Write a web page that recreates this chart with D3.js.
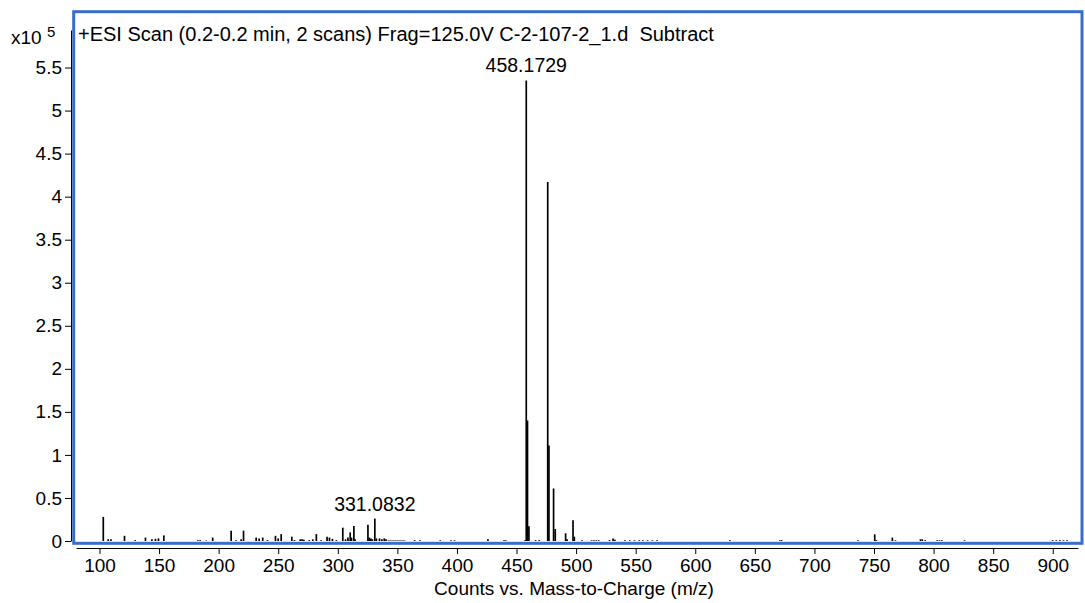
<!DOCTYPE html>
<html>
<head>
<meta charset="utf-8">
<script src="https://cdn.jsdelivr.net/npm/d3@7"></script>
<style>
  html, body { margin: 0; padding: 0; background: #fff; }
  svg { display: block; }
  text { font-family: "Liberation Sans", Arial, sans-serif; fill: #000; }
</style>
</head>
<body>
<svg id="chart" width="1085" height="603"></svg>
<script>
// ---- data (intensity in units of 10^5 counts) ----
const mzValues = [
  103.2, 107.3, 109.6, 121.0, 130.0, 138.6, 144.0, 147.0, 149.5, 154.0,
  182.6, 184.5, 189.6, 195.0, 210.5, 214.7, 218.9, 220.9, 231.5, 234.0,
  237.0, 241.0, 247.7, 250.0, 252.5, 261.4, 263.6, 268.5, 270.0, 271.5,
  276.0, 279.0, 282.0, 286.0, 291.0, 293.0, 295.5, 298.8, 304.2, 306.5,
  308.5, 310.4, 311.5, 313.5, 314.5, 325.3, 326.5, 327.8, 329.0, 331.08,
  332.4, 335.0, 337.0, 339.0, 340.5, 342.5, 344.0, 345.5, 347.0, 348.5,
  350.0, 351.5, 353.0, 354.5, 356.0, 364.5, 369.0, 386.0, 395.0, 398.0,
  426.0, 439.5, 441.0, 457.2, 458.17, 459.2, 460.4, 466.0, 469.0, 476.18,
  477.2, 481.1, 482.5, 491.2, 492.4, 497.4, 498.5, 505.0, 513.0, 515.0,
  517.0, 519.0, 528.0, 531.0, 532.5, 541.0, 545.0, 549.0, 553.0, 556.0,
  560.0, 564.0, 568.0, 629.0, 671.0, 672.5, 736.6, 750.6, 752.0, 765.4,
  768.0, 789.0, 790.5, 793.0, 803.0, 805.0, 807.0, 826.0, 900.0, 903.0,
  906.0, 909.0, 912.0
];
const intensities = [
  0.28, 0.02, 0.02, 0.06, 0.01, 0.04, 0.02, 0.025, 0.03, 0.065,
  0.01, 0.01, 0.005, 0.04, 0.12, 0.01, 0.02, 0.12, 0.04, 0.03,
  0.04, 0.01, 0.06, 0.03, 0.08, 0.05, 0.01, 0.02, 0.02, 0.015,
  0.01, 0.02, 0.08, 0.01, 0.05, 0.04, 0.025, 0.01, 0.155, 0.02,
  0.04, 0.10, 0.04, 0.175, 0.02, 0.19, 0.04, 0.03, 0.02, 0.26,
  0.03, 0.03, 0.02, 0.03, 0.02, 0.006, 0.006, 0.006, 0.006, 0.006,
  0.006, 0.006, 0.006, 0.006, 0.006, 0.01, 0.008, 0.008, 0.008, 0.008,
  0.02, 0.008, 0.008, 0.01, 5.35, 1.40, 0.17, 0.01, 0.01, 4.17,
  1.11, 0.61, 0.14, 0.09, 0.02, 0.24, 0.05, 0.01, 0.008, 0.008,
  0.008, 0.008, 0.01, 0.03, 0.015, 0.008, 0.008, 0.008, 0.008, 0.008,
  0.008, 0.008, 0.008, 0.01, 0.01, 0.01, 0.01, 0.078, 0.01, 0.04,
  0.008, 0.02, 0.02, 0.01, 0.008, 0.008, 0.008, 0.008, 0.008, 0.008,
  0.008, 0.008, 0.008
];
const xTicks = [100, 150, 200, 250, 300, 350, 400, 450, 500, 550, 600, 650, 700, 750, 800, 850, 900];
const yTicks = [0, 0.5, 1, 1.5, 2, 2.5, 3, 3.5, 4, 4.5, 5, 5.5];
const peakLabels = [
  { mz: 458.17, value: 5.35, text: "458.1729" },
  { mz: 331.08, value: 0.26, text: "331.0832" }
];
const titleText = "+ESI Scan (0.2-0.2 min, 2 scans) Frag=125.0V C-2-107-2_1.d  Subtract";
const xAxisTitle = "Counts vs. Mass-to-Charge (m/z)";

// ---- drawing ----
const svg = d3.select("#chart");
const x = d3.scaleLinear().domain([80.3, 921.2]).range([76, 1078]);
const y = d3.scaleLinear().domain([0, 5.936]).range([541, 30]);

const fmtY = d => (d === 0 ? "0" : d3.format("~g")(d));
const FS = "19px";

// y axis
const yAxisG = svg.append("g")
  .attr("transform", "translate(71,0)")
  .call(d3.axisLeft(y).tickValues(yTicks).tickFormat(fmtY).tickSizeInner(6).tickSizeOuter(0).tickPadding(3));
yAxisG.selectAll("text").style("font-size", FS).attr("font-family", null);
yAxisG.selectAll("line, path").attr("stroke", "#000");

// x axis
const xAxisG = svg.append("g")
  .attr("transform", "translate(0,548)")
  .call(d3.axisBottom(x).tickValues(xTicks).tickFormat(d3.format("d")).tickSizeInner(6).tickSizeOuter(0).tickPadding(5));
xAxisG.selectAll("text").style("font-size", FS).attr("font-family", null);
xAxisG.selectAll("line, path").attr("stroke", "#000");

// sticks
const peaks = mzValues.map((m, i) => ({ mz: m, v: intensities[i] }));
svg.append("g").selectAll("line").data(peaks).join("line")
  .attr("x1", d => x(d.mz)).attr("x2", d => x(d.mz))
  .attr("y1", y(0)).attr("y2", d => y(d.v))
  .attr("stroke", "#000").attr("stroke-width", 1.7);

// peak labels
svg.append("g").selectAll("text").data(peakLabels).join("text")
  .attr("x", d => x(d.mz)).attr("y", d => y(d.value) - 8)
  .attr("text-anchor", "middle").style("font-size", "19.5px")
  .text(d => d.text);

// frame
svg.append("rect")
  .attr("x", 73.7).attr("y", 11.7).attr("width", 1082 - 73.7).attr("height", 543.3 - 11.7)
  .attr("fill", "none").attr("stroke", "#3a6dc8").attr("stroke-width", 3);

// title
svg.append("text").attr("x", 78).attr("y", 40.5).style("font-size", "20px")
  .attr("xml:space", "preserve").style("white-space", "pre").text(titleText);

// multiplier
const mult = svg.append("text").attr("x", 11).attr("y", 44).style("font-size", FS);
mult.append("tspan").text("x10 ");
mult.append("tspan").attr("dy", -7).style("font-size", "15px").text("5");

// x axis title
svg.append("text").attr("x", 574).attr("y", 595).attr("text-anchor", "middle")
  .style("font-size", FS).text(xAxisTitle);
</script>
</body>
</html>
